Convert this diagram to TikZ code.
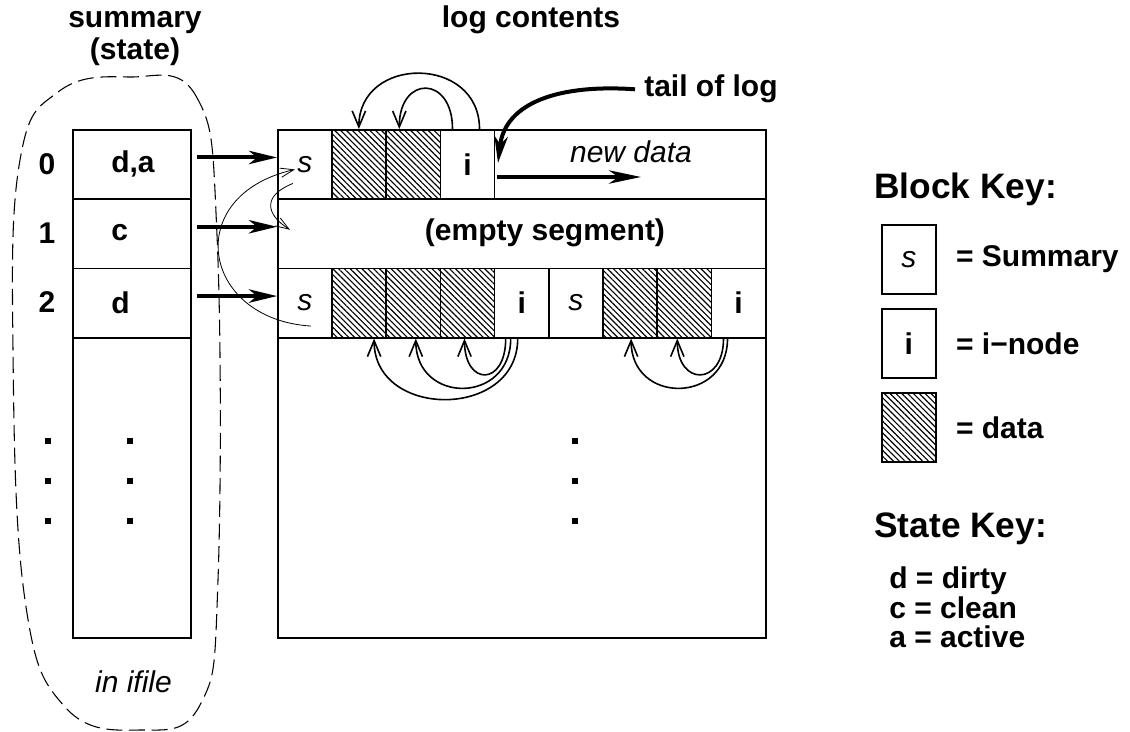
\documentclass[tikz,border=0pt]{standalone}
\usepackage{fontspec}
\setmainfont{Liberation Sans}
\usetikzlibrary{arrows.meta,patterns.meta,calc}

\tikzset{
  lbl/.style={inner sep=0.75pt, font=\fontsize{22.5}{26}\selectfont\bfseries},
  itlbl/.style={inner sep=0.75pt, font=\fontsize{22.5}{26}\selectfont\itshape},
  keytitle/.style={inner sep=0.75pt, font=\fontsize{26.5}{30}\selectfont\bfseries},
  blk/.style={draw, line width=1.2pt, minimum width=40.65pt, minimum height=52pt, inner sep=0pt, anchor=north west, font=\fontsize{22.5}{26}\selectfont\bfseries},
  sblk/.style={blk, font=\fontsize{22.5}{26}\selectfont\itshape},
  iblk/.style={blk},
  datablk/.style={blk, pattern={Lines[angle=-45,distance=3.1pt,line width=0.85pt]}},
  strip/.style={draw, line width=1.2pt, minimum width=366pt, minimum height=52pt, inner sep=0pt, anchor=north west},
  cell/.style={draw, line width=1.2pt, minimum width=88.5pt, minimum height=52pt, inner sep=0pt, anchor=north west},
  dotsq/.style={fill, minimum width=5pt, minimum height=5pt, inner sep=0pt},
  outline/.style={line width=0.8pt, dash pattern=on 12pt off 5pt},
  thickarr/.style={line width=3pt, -{Stealth[length=21pt,width=10pt,inset=6pt]}},
  looparr/.style={line width=1.2pt, -{Straight Barb[length=12pt,width=10pt]}},
  thinarr/.style={line width=0.6pt, -{Straight Barb[length=10pt,width=7pt]}}
}

\begin{document}
\begin{tikzpicture}[x=0.75pt,y=0.75pt,yscale=-1,xscale=1]
\useasboundingbox (0,0) rectangle (1130,731);

% Text Node
\node[lbl, anchor=base] (sumtitle) at (135,28) {summary};
% Text Node
\node[lbl, anchor=base] (statetitle) at (135,60) {(state)};
% Text Node
\node[lbl, anchor=base] (logtitle) at (531,28) {log contents};

%Shape: dashed outline round the summary table
\draw[outline] plot[smooth cycle, tension=0.7] coordinates {(128,77) (196,96) (217,235) (218,580) (200,705) (140,730) (65,707) (25,600) (13,350) (20,160) (58,92)};

%Shape: summary table
\node[draw, line width=1.2pt, minimum width=88.5pt, minimum height=381pt, inner sep=0pt, anchor=north west] (sumtab) at (72,129) {};
\node[cell] (sum0) at (72,129) {};
\node[cell] (sum1) at (72,198.3) {};
\node[cell] (sum2) at (72,267.6) {};

% Text Node
\node[lbl] (idx0) at (47,163.7) {0};
\node[lbl] (idx1) at (47,233) {1};
\node[lbl] (idx2) at (47,302.3) {2};
\node[lbl, anchor=west] (st0) at (110,163.7) {d,a};
\node[lbl, anchor=west] (st1) at (110,233) {c};
\node[lbl, anchor=west] (st2) at (110,302.3) {d};

%Shape: dots
\node[dotsq] (dl1) at (48,441) {};
\node[dotsq] (dl2) at (48,481) {};
\node[dotsq] (dl3) at (48,521) {};
\node[dotsq] (dm1) at (130,441) {};
\node[dotsq] (dm2) at (130,481) {};
\node[dotsq] (dm3) at (130,521) {};

% Text Node
\node[itlbl, anchor=base] (ifile) at (133.5,692.7) {in ifile};

%Shape: log
\node[draw, line width=1.2pt, minimum width=366pt, minimum height=381pt, inner sep=0pt, anchor=north west] (logbox) at (277,129) {};
\node[strip] (row0) at (277,129) {};
\node[strip] (row1) at (277,198.3) {};
\node[strip] (row2) at (277,267.6) {};

%Shape: segment 0 blocks
\node[sblk] (seg0s) at (277,129) {s};
\node[datablk] (seg0d1) at (331.2,129) {};
\node[datablk] (seg0d2) at (385.4,129) {};
\node[iblk] (seg0i) at (439.6,129) {i};

%Shape: segment 2 blocks
\node[sblk] (seg2s) at (277,267.6) {s};
\node[datablk] (seg2d1) at (331.2,267.6) {};
\node[datablk] (seg2d2) at (385.4,267.6) {};
\node[datablk] (seg2d3) at (439.6,267.6) {};
\node[iblk] (seg2i) at (493.8,267.6) {i};
\node[sblk] (seg2s2) at (548,267.6) {s};
\node[datablk] (seg2d4) at (602.2,267.6) {};
\node[datablk] (seg2d5) at (656.4,267.6) {};
\node[iblk] (seg2i2) at (710.6,267.6) {i};

% Text Node
\node[lbl] (emptylbl) at (545,233) {(empty segment)};
% Text Node
\node[itlbl, anchor=base] (newlbl) at (631,162) {new data};
% Text Node
\node[lbl, anchor=base west] (tail) at (643,97) {tail of log};

%Straight Lines: summary entries to segments
\draw[thickarr] ($(sum0.east)+(5,-7)$) -- ($(seg0s.west)+(0,-7)$);
\draw[thickarr] ($(sum1.east)+(5,-7)$) -- ($(row1.west)+(0,-7)$);
\draw[thickarr] ($(sum2.east)+(5,-7)$) -- ($(seg2s.west)+(0,-7)$);

%Curve Lines: i-node to data, segment 0
\draw[looparr] ($(seg0i.north)+(-15,0)$) .. controls +(0,-54) and +(0,-54) .. ($(seg0d2.north)+(-14,0)$);
\draw[looparr] ($(seg0i.north)+(12,0)$) .. controls +(0,-74) and +(0,-74) .. (seg0d1.north);

%Curve Lines: i-node to data, segment 2
\draw[looparr] ($(seg2i.south)+(-16,0)$) .. controls +(0,48) and +(0,48) .. ($(seg2d3.south)+(-3,0)$);
\draw[looparr] ($(seg2i.south)+(-11,0)$) .. controls +(0,66) and +(0,66) .. ($(seg2d2.south)+(2.5,0)$);
\draw[looparr] ($(seg2i.south)+(-4,0)$) .. controls +(0,81) and +(0,81) .. ($(seg2d1.south)+(15,0)$);
\draw[looparr] ($(seg2i2.south)+(-15,0)$) .. controls +(0,48) and +(0,48) .. ($(seg2d5.south)+(-7,0)$);
\draw[looparr] ($(seg2i2.south)+(-11,0)$) .. controls +(0,66) and +(0,66) .. ($(seg2d4.south)+(1,0)$);

%Curve Lines: segment summary links
\draw[thinarr] ($(seg2s.center)+(6,23)$) .. controls +(-110,-7) and +(-114,26) .. ($(seg0s.center)+(-10,5)$);
\draw[thinarr] ($(seg0s.center)+(-12,19)$) .. controls +(-30,12) and +(-25,-16) .. ($(row1.west)+(13,-4)$);

%Curve Lines: tail of log
\coordinate (tailtip) at (498,163);
\draw[line width=3pt, -{Stealth[length=20pt,width=10pt,inset=6pt]}] ($(tail.west)+(-8,0)$) .. controls (560,84) and (505,102) .. (tailtip);

%Straight Lines: new data
\coordinate (newfrom) at (497,177);
\coordinate (newto) at (641,177);
\draw[line width=3pt, -{Stealth[length=24pt,width=10pt,inset=7pt]}] (newfrom) -- (newto);

%Shape: dots in the log
\node[dotsq] (ld1) at (575,441) {};
\node[dotsq] (ld2) at (575,481) {};
\node[dotsq] (ld3) at (575,521) {};

% Block Key
\node[keytitle, anchor=base west] (blockkey) at (873,198) {Block Key:};
\node[sblk] (keys) at (881,224) {s};
\node[iblk] (keyi) at (881,308) {i};
\node[datablk] (keyd) at (881,392) {};
\node[lbl, anchor=west] (keystxt) at ($(keys.east)+(18,0)$) {= Summary};
\node[lbl, anchor=west] (keyitxt) at ($(keyi.east)+(18,0)$) {= i−node};
\node[lbl, anchor=west] (keydtxt) at ($(keyd.east)+(18,0)$) {= data};

% State Key
\node[keytitle, anchor=base west] (statekey) at (873,537) {State Key:};
\node[lbl, anchor=base west] (stated) at (888,588) {d = dirty};
\node[lbl, anchor=base west] (statec) at (888,618) {c = clean};
\node[lbl, anchor=base west] (statea) at (888,647) {a = active};

\end{tikzpicture}
\end{document}
